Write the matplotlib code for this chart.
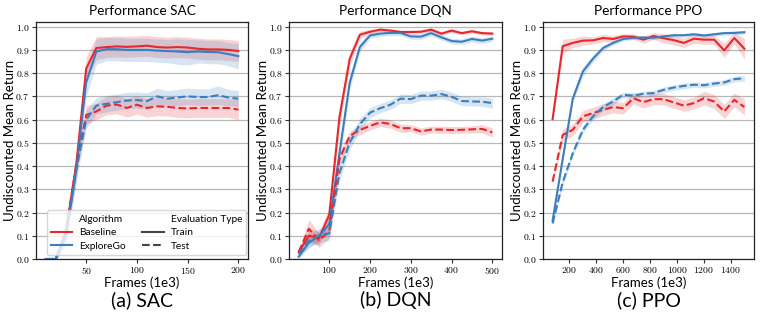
import numpy as np
import matplotlib
matplotlib.use("Agg")
import matplotlib.pyplot as plt
from matplotlib.lines import Line2D
from matplotlib.ticker import FuncFormatter, MultipleLocator

# ---------------- data ----------------
sac_x = [10, 20, 30, 40, 50, 60, 70, 80, 90, 100, 110, 120, 130, 140, 150, 160, 170, 180, 190, 200]
sac_base_train = [0.0, 0.0, 0.12, 0.40, 0.82, 0.908, 0.912, 0.915, 0.913, 0.915, 0.918, 0.912, 0.910, 0.912, 0.910, 0.905, 0.902, 0.902, 0.900, 0.895]
sac_expl_train = [0.0, 0.0, 0.10, 0.38, 0.76, 0.893, 0.903, 0.903, 0.900, 0.900, 0.900, 0.897, 0.895, 0.893, 0.890, 0.893, 0.891, 0.890, 0.882, 0.873]
sac_base_test = [0.0, 0.0, 0.12, 0.40, 0.62, 0.635, 0.660, 0.665, 0.650, 0.664, 0.650, 0.657, 0.655, 0.650, 0.648, 0.650, 0.650, 0.650, 0.650, 0.643]
sac_expl_test = [0.0, 0.0, 0.10, 0.38, 0.60, 0.660, 0.668, 0.675, 0.682, 0.684, 0.680, 0.700, 0.690, 0.695, 0.700, 0.697, 0.697, 0.705, 0.695, 0.690]
sac_base_train_ci = [0.0, 0.0, 0.03, 0.04, 0.05, 0.05, 0.045, 0.045, 0.045, 0.045, 0.045, 0.045, 0.045, 0.045, 0.045, 0.045, 0.045, 0.045, 0.045, 0.045]
sac_expl_train_ci = [0.0, 0.005, 0.04, 0.05, 0.06, 0.055, 0.05, 0.05, 0.05, 0.05, 0.05, 0.05, 0.05, 0.055, 0.055, 0.05, 0.05, 0.05, 0.05, 0.055]
sac_base_test_ci = [0.0, 0.0, 0.03, 0.04, 0.04, 0.035, 0.04, 0.04, 0.04, 0.04, 0.04, 0.04, 0.04, 0.04, 0.04, 0.04, 0.04, 0.04, 0.04, 0.045]
sac_expl_test_ci = [0.0, 0.005, 0.04, 0.05, 0.04, 0.035, 0.035, 0.035, 0.035, 0.035, 0.035, 0.035, 0.035, 0.035, 0.035, 0.035, 0.035, 0.04, 0.035, 0.035]

dqn_x = [25, 50, 75, 100, 125, 150, 175, 200, 225, 250, 275, 300, 325, 350, 375, 400, 425, 450, 475, 500]
dqn_base_train = [0.03, 0.10, 0.09, 0.19, 0.61, 0.86, 0.965, 0.978, 0.987, 0.983, 0.977, 0.977, 0.978, 0.987, 0.970, 0.983, 0.972, 0.980, 0.972, 0.970]
dqn_expl_train = [0.01, 0.07, 0.10, 0.15, 0.455, 0.757, 0.912, 0.962, 0.970, 0.973, 0.973, 0.958, 0.957, 0.972, 0.954, 0.938, 0.935, 0.947, 0.940, 0.948]
dqn_base_test = [0.03, 0.13, 0.08, 0.12, 0.43, 0.53, 0.555, 0.573, 0.588, 0.581, 0.563, 0.563, 0.549, 0.557, 0.557, 0.555, 0.556, 0.558, 0.560, 0.545]
dqn_expl_test = [0.02, 0.08, 0.10, 0.11, 0.37, 0.50, 0.58, 0.63, 0.649, 0.664, 0.690, 0.688, 0.703, 0.703, 0.710, 0.698, 0.680, 0.678, 0.677, 0.671]
dqn_base_train_ci = [0.01, 0.03, 0.03, 0.03, 0.04, 0.03, 0.015, 0.01, 0.008, 0.008, 0.008, 0.008, 0.008, 0.008, 0.008, 0.008, 0.008, 0.008, 0.008, 0.008]
dqn_expl_train_ci = [0.01, 0.02, 0.02, 0.03, 0.04, 0.03, 0.02, 0.012, 0.012, 0.012, 0.012, 0.012, 0.012, 0.012, 0.012, 0.012, 0.012, 0.012, 0.012, 0.012]
dqn_base_test_ci = [0.01, 0.04, 0.03, 0.03, 0.03, 0.02, 0.02, 0.018, 0.018, 0.018, 0.018, 0.015, 0.015, 0.015, 0.015, 0.015, 0.015, 0.015, 0.018, 0.02]
dqn_expl_test_ci = [0.01, 0.03, 0.03, 0.03, 0.035, 0.03, 0.025, 0.022, 0.02, 0.02, 0.02, 0.02, 0.02, 0.02, 0.02, 0.02, 0.02, 0.02, 0.02, 0.022]

ppo_x = [75, 150, 225, 300, 375, 450, 525, 600, 675, 750, 825, 900, 975, 1050, 1125, 1200, 1275, 1350, 1425, 1500]
ppo_base_train = [0.602, 0.916, 0.930, 0.940, 0.941, 0.951, 0.947, 0.958, 0.957, 0.944, 0.960, 0.950, 0.942, 0.930, 0.948, 0.944, 0.944, 0.898, 0.951, 0.905]
ppo_expl_train = [0.165, 0.43, 0.69, 0.807, 0.862, 0.908, 0.930, 0.947, 0.952, 0.953, 0.952, 0.958, 0.963, 0.963, 0.967, 0.962, 0.967, 0.972, 0.973, 0.976]
ppo_base_test = [0.333, 0.534, 0.556, 0.614, 0.628, 0.642, 0.654, 0.649, 0.692, 0.675, 0.688, 0.688, 0.674, 0.660, 0.671, 0.692, 0.678, 0.635, 0.685, 0.654]
ppo_expl_test = [0.153, 0.33, 0.455, 0.556, 0.614, 0.654, 0.678, 0.707, 0.703, 0.711, 0.714, 0.728, 0.738, 0.745, 0.750, 0.748, 0.755, 0.760, 0.774, 0.778]
ppo_base_train_ci = [0.01, 0.03, 0.02, 0.02, 0.015, 0.015, 0.015, 0.012, 0.012, 0.015, 0.015, 0.02, 0.02, 0.02, 0.02, 0.02, 0.02, 0.03, 0.025, 0.045]
ppo_expl_train_ci = [0.01, 0.015, 0.015, 0.02, 0.015, 0.012, 0.01, 0.008, 0.008, 0.008, 0.008, 0.008, 0.008, 0.008, 0.008, 0.008, 0.008, 0.008, 0.008, 0.008]
ppo_base_test_ci = [0.01, 0.025, 0.025, 0.025, 0.025, 0.025, 0.025, 0.025, 0.025, 0.025, 0.025, 0.025, 0.025, 0.025, 0.025, 0.03, 0.03, 0.03, 0.03, 0.035]
ppo_expl_test_ci = [0.01, 0.015, 0.015, 0.015, 0.015, 0.015, 0.015, 0.012, 0.012, 0.012, 0.012, 0.012, 0.012, 0.012, 0.012, 0.012, 0.012, 0.012, 0.012, 0.012]

panels = [
    ("Performance SAC", "(a) SAC", sac_x, [50, 100, 150, 200],
     (sac_base_train, sac_base_train_ci), (sac_expl_train, sac_expl_train_ci),
     (sac_base_test, sac_base_test_ci), (sac_expl_test, sac_expl_test_ci)),
    ("Performance DQN", "(b) DQN", dqn_x, [100, 200, 300, 400, 500],
     (dqn_base_train, dqn_base_train_ci), (dqn_expl_train, dqn_expl_train_ci),
     (dqn_base_test, dqn_base_test_ci), (dqn_expl_test, dqn_expl_test_ci)),
    ("Performance PPO", "(c) PPO", ppo_x, [200, 400, 600, 800, 1000, 1200, 1400],
     (ppo_base_train, ppo_base_train_ci), (ppo_expl_train, ppo_expl_train_ci),
     (ppo_base_test, ppo_base_test_ci), (ppo_expl_test, ppo_expl_test_ci)),
]

RED = "#e8262b"
BLUE = "#3a7ebf"

plt.rcParams["mathtext.fontset"] = "cm"
plt.rcParams["font.family"] = ["Lato", "DejaVu Sans"]

fig = plt.figure(figsize=(7.61, 3.15), dpi=100)
lefts_px = [36, 289, 543]
widths_px = [212, 213, 211]
bottom = 56 / 315
height = 237 / 315

xfmt = FuncFormatter(lambda v, p: r"$%d$" % v)
yfmt = FuncFormatter(lambda v, p: r"$%.1f$" % v)

for i, (title, sub, xs, xt, btr, etr, bte, ete) in enumerate(panels):
    wpx = widths_px[i]
    ax = fig.add_axes([lefts_px[i] / 761, bottom, wpx / 761, height])
    xs = np.array(xs, dtype=float)
    for (vals, ci), col, ls in [(btr, RED, "-"), (etr, BLUE, "-"),
                                (bte, RED, "--"), (ete, BLUE, "--")]:
        v = np.array(vals); c = np.array(ci)
        ax.fill_between(xs, v - c, v + c, color=col, alpha=0.2, linewidth=0)
        ax.plot(xs, v, color=col, linestyle=ls, linewidth=1.5)
    ax.set_ylim(0, 1.02)
    rng = xs[-1] - xs[0]
    ax.set_xlim(xs[0] - 0.05 * rng, xs[-1] + 0.05 * rng)
    ax.set_xticks(xt)
    ax.xaxis.set_major_formatter(xfmt)
    ax.yaxis.set_major_locator(MultipleLocator(0.1))
    ax.yaxis.set_major_formatter(yfmt)
    ax.tick_params(labelsize=7, length=3, color="#333333", pad=1.5)
    ax.grid(axis="y", color="#b8b8b8", linewidth=0.9)
    ax.set_axisbelow(True)
    for s in ax.spines.values():
        s.set_color("#222222")
        s.set_linewidth(0.9)
    ax.set_title(title, fontsize=9.8, pad=5)
    ax.set_xlabel("Frames (1e3)", fontsize=9.5)
    ax.xaxis.set_label_coords(0.5, -17 / 237)
    ax.set_ylabel("Undiscounted Mean Return", fontsize=9.5)
    ax.yaxis.set_label_coords(-20 / wpx, 0.5)
    ax.text(0.5, -41 / 237, sub, transform=ax.transAxes, ha="center", va="center", fontsize=14)

    if i == 0:
        blank = Line2D([], [], linestyle="none")
        handles = [blank,
                   Line2D([], [], color=RED, lw=1.5),
                   Line2D([], [], color=BLUE, lw=1.5),
                   blank,
                   Line2D([], [], color="#444444", lw=1.5),
                   Line2D([], [], color="#444444", lw=1.5, linestyle="--")]
        labels = ["Algorithm", "Baseline", "ExploreGo", "Evaluation Type", "Train", "Test"]
        leg = ax.legend(handles, labels, ncol=2, loc="lower left", bbox_to_anchor=(11 / wpx, 4 / 237),
                        fontsize=7.3, frameon=True, fancybox=True, framealpha=0.8,
                        borderaxespad=0.0, handlelength=2.1, handletextpad=0.7, columnspacing=1.6,
                        labelspacing=0.45, borderpad=0.4)
        leg.get_frame().set_edgecolor("#cccccc")

fig.savefig("out.png", dpi=100)
